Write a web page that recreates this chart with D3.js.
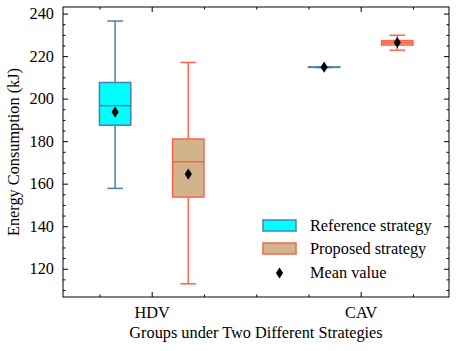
<!DOCTYPE html>
<html>
<head>
<meta charset="utf-8">
<script src="https://cdn.jsdelivr.net/npm/d3@7"></script>
<style>
  body { margin: 0; background: #fff; }
</style>
</head>
<body>
<div id="chart"></div>
<script>
// groups on the x axis
var groups = ["HDV", "CAV"]
var strategies = ["Reference strategy", "Proposed strategy"]

// box stats: [low whisker, q1, median, q3, high whisker]
var refStats = [[157.8, 187.5, 196.7, 207.6, 236.5], [214.6, 214.7, 214.8, 214.9, 215.0]]
var refMeans = [193.7, 214.8]
var propStats = [[112.9, 153.7, 170.3, 181.0, 217.0], [222.8, 225.2, 226.3, 227.3, 229.8]]
var propMeans = [164.5, 226.4]

var yTicks = [120, 140, 160, 180, 200, 220, 240]

var fills = ["#00ffff", "#d2b48c"]
var edges = ["#4682b4", "#ff6347"]

var width = 457, height = 351
var margin = { left: 63, right: 8, top: 7, bottom: 54 }
var W = width - margin.left - margin.right
var H = height - margin.top - margin.bottom
var serif = "Liberation Serif, DejaVu Serif, serif"
var fs = "16.3px"

var svg = d3.select("#chart").append("svg")
  .attr("width", width).attr("height", height)

var g = svg.append("g").attr("transform", "translate(" + margin.left + "," + margin.top + ")")

var x = d3.scaleLinear().domain([-0.4244, 1.4225]).range([0, W])
var y = d3.scaleLinear().domain([106.7, 243.1]).range([H, 0])

var offset = 0.175, boxW = 0.15

// build a table from the arrays
var series = [
  { name: strategies[0], stats: refStats, means: refMeans, dx: -offset, fill: fills[0], edge: edges[0] },
  { name: strategies[1], stats: propStats, means: propMeans, dx: offset, fill: fills[1], edge: edges[1] }
]

var diamond = d3.symbol().type({
  draw: function (ctx, size) {
    var h = 5.6, w = 3.6
    ctx.moveTo(0, -h); ctx.lineTo(w, 0); ctx.lineTo(0, h); ctx.lineTo(-w, 0); ctx.closePath()
  }
})

series.forEach(function (s) {
  groups.forEach(function (grp, i) {
    var st = s.stats[i]
    var cx = x(i + s.dx)
    var bw = x(boxW) - x(0)
    var cap = bw / 2
    var bx = g.append("g")
    // whiskers
    bx.append("line").attr("x1", cx).attr("x2", cx).attr("y1", y(st[0])).attr("y2", y(st[1]))
      .attr("stroke", s.edge).attr("stroke-width", 1.5)
    bx.append("line").attr("x1", cx).attr("x2", cx).attr("y1", y(st[3])).attr("y2", y(st[4]))
      .attr("stroke", s.edge).attr("stroke-width", 1.5)
    // caps
    ;[st[0], st[4]].forEach(function (v) {
      bx.append("line").attr("x1", cx - cap / 2).attr("x2", cx + cap / 2).attr("y1", y(v)).attr("y2", y(v))
        .attr("stroke", s.edge).attr("stroke-width", 1.5)
    })
    // box
    bx.append("rect").attr("x", cx - bw / 2).attr("width", bw)
      .attr("y", y(st[3])).attr("height", y(st[1]) - y(st[3]))
      .attr("fill", s.fill).attr("stroke", s.edge).attr("stroke-width", 1.5)
    // median
    bx.append("line").attr("x1", cx - bw / 2).attr("x2", cx + bw / 2).attr("y1", y(st[2])).attr("y2", y(st[2]))
      .attr("stroke", s.edge).attr("stroke-width", 1.5)
    // mean
    bx.append("path").attr("d", diamond).attr("fill", "#000")
      .attr("transform", "translate(" + cx + "," + y(s.means[i]) + ")")
  })
})

// axes, ticks pointing in
var majLen = 5, minLen = 2.5
var minorY = d3.range(110, 241, 5).filter(function (v) { return v % 20 != 0 })
var minorX = [-0.25, 0.25, 0.5, 0.75, 1.25]

function tickStyle(sel) {
  sel.select(".domain").remove()
  sel.selectAll("line").attr("stroke", "#000").attr("stroke-width", 1)
  sel.selectAll("text").style("font-family", serif).style("font-size", fs).style("fill", "#000")
}

g.append("g").call(d3.axisLeft(y).tickValues(yTicks).tickSize(-majLen).tickPadding(9))
  .call(tickStyle)
g.append("g").call(d3.axisLeft(y).tickValues(minorY).tickSize(-minLen).tickFormat(""))
  .call(tickStyle)
g.append("g").attr("transform", "translate(" + W + ",0)")
  .call(d3.axisRight(y).tickValues(yTicks).tickSize(-majLen).tickFormat("")).call(tickStyle)
g.append("g").attr("transform", "translate(" + W + ",0)")
  .call(d3.axisRight(y).tickValues(minorY).tickSize(-minLen).tickFormat("")).call(tickStyle)

g.append("g").attr("transform", "translate(0," + H + ")")
  .call(d3.axisBottom(x).tickValues([0, 1]).tickSize(-majLen).tickPadding(9)
    .tickFormat(function (d) { return groups[d] }))
  .call(tickStyle)
g.append("g").attr("transform", "translate(0," + H + ")")
  .call(d3.axisBottom(x).tickValues(minorX).tickSize(-minLen).tickFormat("")).call(tickStyle)
g.append("g").call(d3.axisTop(x).tickValues([0, 1]).tickSize(-majLen).tickFormat("")).call(tickStyle)
g.append("g").call(d3.axisTop(x).tickValues(minorX).tickSize(-minLen).tickFormat("")).call(tickStyle)

// frame
g.append("rect").attr("width", W).attr("height", H).attr("fill", "none")
  .attr("stroke", "#000").attr("stroke-width", 1)

// labels
function label(sel) { return sel.style("font-family", serif).style("font-size", fs).style("fill", "#000") }

svg.append("text").attr("x", margin.left + W / 2).attr("y", 338)
  .attr("text-anchor", "middle").call(label)
  .text("Groups under Two Different Strategies")
svg.append("text").attr("transform", "translate(19," + (margin.top + H / 2) + ") rotate(-90)")
  .attr("text-anchor", "middle").call(label)
  .text("Energy Consumption (kJ)")

// legend
var leg = svg.append("g").attr("transform", "translate(263,220)")
series.forEach(function (s, i) {
  var row = leg.append("g").attr("transform", "translate(0," + (i * 23) + ")")
  row.append("rect").attr("width", 33).attr("height", 11)
    .attr("fill", s.fill).attr("stroke", s.edge).attr("stroke-width", 1.5)
  row.append("text").attr("x", 47).attr("y", 11).call(label).text(s.name)
})
var mrow = leg.append("g").attr("transform", "translate(0,46)")
mrow.append("path").attr("d", diamond).attr("fill", "#000").attr("transform", "translate(16.5,7)")
mrow.append("text").attr("x", 47).attr("y", 12).call(label).text("Mean value")
</script>
</body>
</html>
